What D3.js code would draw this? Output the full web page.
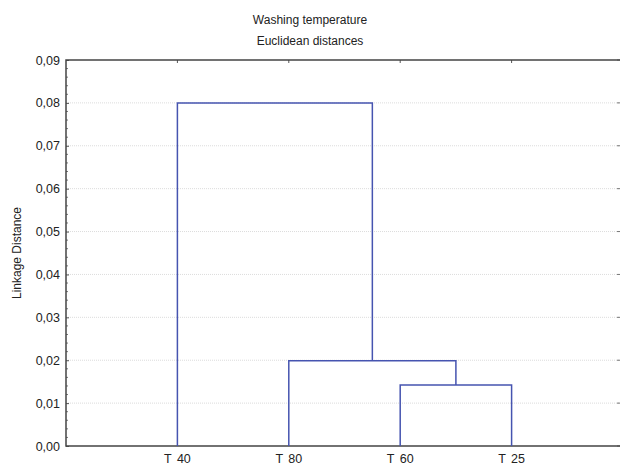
<!DOCTYPE html>
<html>
<head>
<meta charset="utf-8">
<script src="https://cdn.jsdelivr.net/npm/d3@7"></script>
<style>
  body { margin: 0; background: #fff; }
  text { font-family: "Liberation Sans", Arial, sans-serif; fill: #222; }
</style>
</head>
<body>
<div id="chart"></div>
<script>
const width = 620, height = 466;

// leaf order along the x axis
const leaves = ["T 40", "T 80", "T 60", "T 25"];
// merges: left child, right child, linkage distance
const merges = [
    { left: "T 60", right: "T 25", height: 0.0142 },
    { left: "T 80", right: "m0", height: 0.0199 },
    { left: "T 40", right: "m1", height: 0.0800 }
];
const yTicks = [0, 0.01, 0.02, 0.03, 0.04, 0.05, 0.06, 0.07, 0.08, 0.09];

const margin = { left: 66, top: 60, bottom: 446, right: 623 };

const svg = d3.select('#chart')
    .append('svg')
    .attr('width', width)
    .attr('height', height);

const x = d3.scaleLinear()
    .domain([0, leaves.length + 1])
    .range([margin.left, margin.right]);

const y = d3.scaleLinear()
    .domain([0, 0.09])
    .range([margin.bottom, margin.top]);

const fmt = d => d3.format(".2f")(d).replace('.', ',');

// grid lines
svg.append('g')
    .selectAll('line')
    .data(yTicks.filter(d => d > 0 && d < 0.09))
    .enter()
    .append('line')
    .attr('x1', margin.left)
    .attr('x2', margin.right)
    .attr('y1', d => y(d))
    .attr('y2', d => y(d))
    .attr('stroke', '#dcdcdc')
    .attr('stroke-width', 1)
    .attr('stroke-dasharray', '1,1');

// left axis
const yAxis = svg.append('g')
    .attr('transform', `translate(${margin.left},0)`)
    .call(d3.axisLeft(y).tickValues(yTicks).tickFormat(fmt).tickSize(-3).tickPadding(6));
yAxis.select('.domain').remove();
yAxis.selectAll('text').attr('font-size', 12.5).attr('fill', '#222')
    .style('font-family', '"Liberation Sans", Arial, sans-serif');
yAxis.selectAll('line').attr('stroke', '#555');

// minor ticks on left axis
const minor = d3.range(0, 91, 2).map(v => v / 1000).filter(v => Math.round(v * 1000) % 10 !== 0);
svg.append('g')
    .selectAll('line')
    .data(minor)
    .enter()
    .append('line')
    .attr('x1', margin.left)
    .attr('x2', margin.left + 2)
    .attr('y1', d => y(d))
    .attr('y2', d => y(d))
    .attr('stroke', '#777');

// right axis ticks (inward)
svg.append('g')
    .selectAll('line')
    .data(yTicks)
    .enter()
    .append('line')
    .attr('x1', 617)
    .attr('x2', 620)
    .attr('y1', d => y(d))
    .attr('y2', d => y(d))
    .attr('stroke', '#777');

// top axis ticks (inward)
svg.append('g')
    .selectAll('line')
    .data(leaves)
    .enter()
    .append('line')
    .attr('x1', (d, i) => x(i + 1))
    .attr('x2', (d, i) => x(i + 1))
    .attr('y1', margin.top)
    .attr('y2', margin.top + 3)
    .attr('stroke', '#555');

// frame
svg.append('path')
    .attr('d', `M${margin.right},${margin.top}H${margin.left}V${margin.bottom}H${margin.right}`)
    .attr('fill', 'none')
    .attr('stroke', '#444')
    .attr('stroke-width', 1.5);

// dendrogram
const pos = {};
leaves.forEach((d, i) => { pos[d] = { x: x(i + 1), h: 0 }; });
const blue = '#4654b0';
const tree = svg.append('g');
merges.forEach((m, i) => {
    const a = pos[m.left], b = pos[m.right];
    tree.append('path')
        .attr('d', `M${a.x},${y(a.h)}V${y(m.height)}H${b.x}V${y(b.h)}`)
        .attr('fill', 'none')
        .attr('stroke', blue)
        .attr('stroke-width', 1.5);
    pos['m' + i] = { x: (a.x + b.x) / 2, h: m.height };
});

// leaf labels
svg.append('g')
    .selectAll('text')
    .data(leaves)
    .enter()
    .append('text')
    .attr('x', (d, i) => x(i + 1))
    .attr('y', 463)
    .attr('text-anchor', 'middle')
    .attr('font-size', 12.5)
    .style('word-spacing', '2px')
    .text(d => d);

// titles
svg.append('text')
    .attr('x', 310).attr('y', 24)
    .attr('text-anchor', 'middle')
    .attr('font-size', 12)
    .text('Washing temperature');
svg.append('text')
    .attr('x', 310).attr('y', 45)
    .attr('text-anchor', 'middle')
    .attr('font-size', 12)
    .text('Euclidean distances');

// y label
svg.append('text')
    .attr('transform', `translate(21,${(margin.top + margin.bottom) / 2}) rotate(-90)`)
    .attr('text-anchor', 'middle')
    .attr('font-size', 12)
    .text('Linkage Distance');
</script>
</body>
</html>
